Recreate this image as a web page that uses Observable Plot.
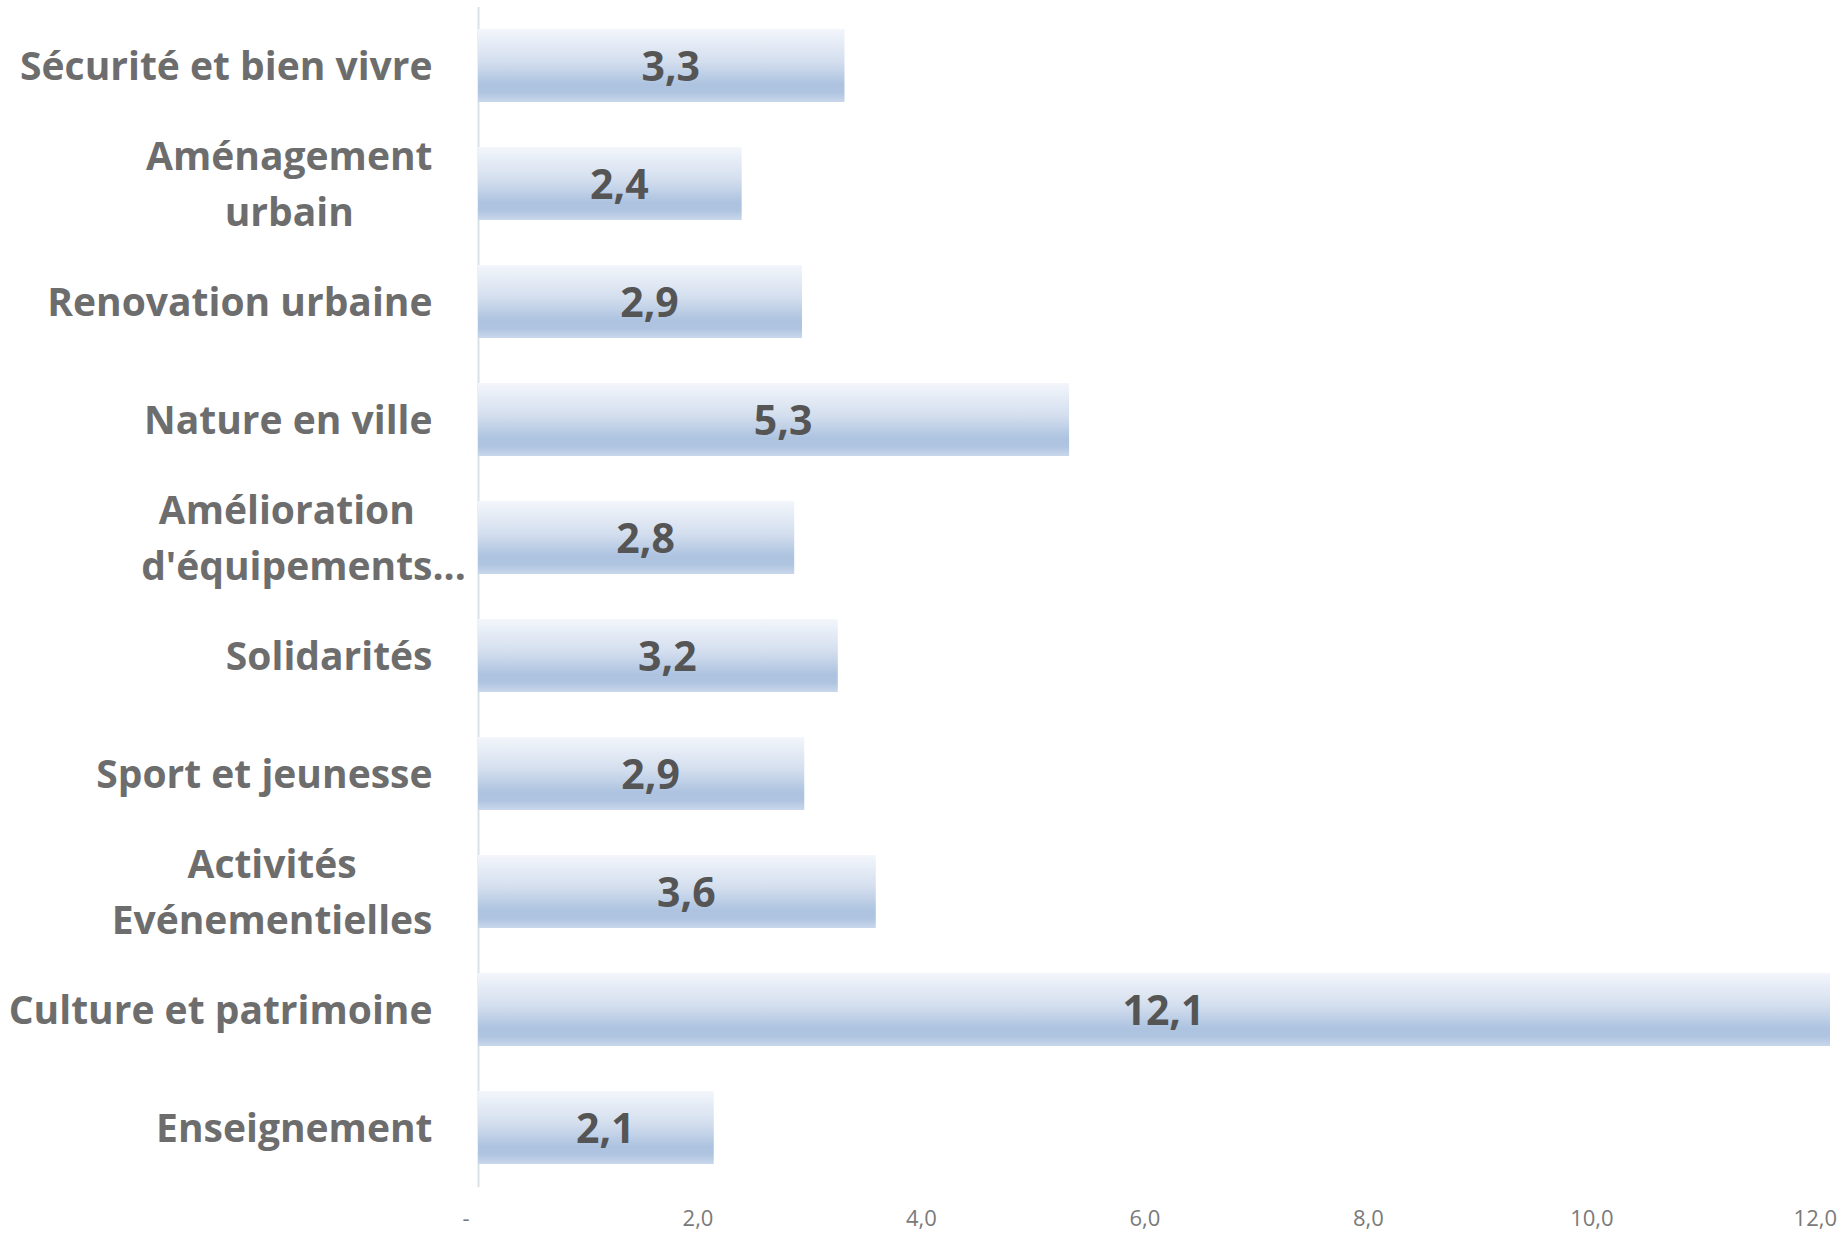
<!DOCTYPE html>
<html>
<head>
<meta charset="utf-8">
<script src="https://cdn.jsdelivr.net/npm/d3@7"></script>
<script src="https://cdn.jsdelivr.net/npm/@observablehq/plot@0.6"></script>
<style>
  html, body { margin: 0; padding: 0; background: #fff; }
  #chart svg { display: block; }
</style>
</head>
<body>
<div id="chart"></div>
<script>
const categories = ["Sécurité et bien vivre", "Aménagement urbain", "Renovation urbaine", "Nature en ville", "Amélioration d'équipements", "Solidarités", "Sport et jeunesse", "Activités Evénementielles", "Culture et patrimoine", "Enseignement"];
const categoryLabels = ["Sécurité et bien vivre", "Aménagement\nurbain", "Renovation urbaine", "Nature en ville", "Amélioration\nd'équipements...", "Solidarités", "Sport et jeunesse", "Activités\nEvénementielles", "Culture et patrimoine", "Enseignement"];
const values = [3.28, 2.36, 2.90, 5.29, 2.83, 3.22, 2.92, 3.56, 12.1, 2.11];
const xTicks = [0, 2, 4, 6, 8, 10, 12];

const data = categories.map((c, i) => ({category: c, label: categoryLabels[i], value: values[i]}));
const labelOf = new Map(data.map(d => [d.category, d.label]));
const fmt = v => v.toFixed(1).replace(".", ",");

const svg = Plot.plot({
  width: 1843,
  height: 1234,
  marginLeft: 478,
  marginRight: 13,
  marginTop: 7,
  marginBottom: 47,
  style: {fontFamily: "'Open Sans', sans-serif", background: "#fff"},
  x: {domain: [0, 12.1], label: null},
  y: {domain: categories, paddingInner: 0.38, paddingOuter: 0.19, label: null},
  marks: [
    Plot.ruleX([0], {stroke: "#d9e2e6", strokeWidth: 2}),
    Plot.barX(data, {x: "value", y: "category", fill: "url(#barGrad)"}),
    Plot.text(data, {x: d => d.value / 2, y: "category", text: d => fmt(d.value), dx: 9, dy: 2,
      fontSize: 41, fontWeight: "bold", fill: "#555555"}),
    Plot.axisY({tickSize: 0, tickPadding: 46, dy: -4, tickFormat: d => labelOf.get(d), fontSize: 39,
      fontWeight: "bold", fill: "#6d6d6d", lineHeight: 1.45, textAnchor: "end"}),
    Plot.axisX({ticks: xTicks, tickSize: 0, tickPadding: 23, dx: -4, fontSize: 22, fill: "#7a7a7a",
      tickFormat: d => d === 0 ? "-\u00a0\u00a0\u00a0" : fmt(d)})
  ]
});

d3.select(svg).insert("defs", ":first-child").html(`
  <linearGradient id="barGrad" x1="0" y1="0" x2="0" y2="1">
    <stop offset="0" stop-color="#f3f6fb"/>
    <stop offset="0.45" stop-color="#d3deee"/>
    <stop offset="0.76" stop-color="#adc3e0"/>
    <stop offset="0.87" stop-color="#afc4e1"/>
    <stop offset="1" stop-color="#c9d7eb"/>
  </linearGradient>`);

document.getElementById("chart").append(svg);

// center the lines of multi-line category labels within their right-aligned block
svg.querySelectorAll("text").forEach(t => {
  const spans = t.querySelectorAll("tspan");
  if (spans.length < 2) return;
  const cores = Array.from(spans, s => {
    const core = s.textContent.replace(/(\.+|…)$/, "");
    return s.getSubStringLength(0, core.length);
  });
  const maxW = Math.max(...cores);
  spans.forEach((s, i) => {
    const x0 = +(s.getAttribute("x") || 0);
    s.setAttribute("text-anchor", "start");
    s.setAttribute("x", x0 - maxW / 2 - cores[i] / 2);
  });
});
</script>
</body>
</html>
